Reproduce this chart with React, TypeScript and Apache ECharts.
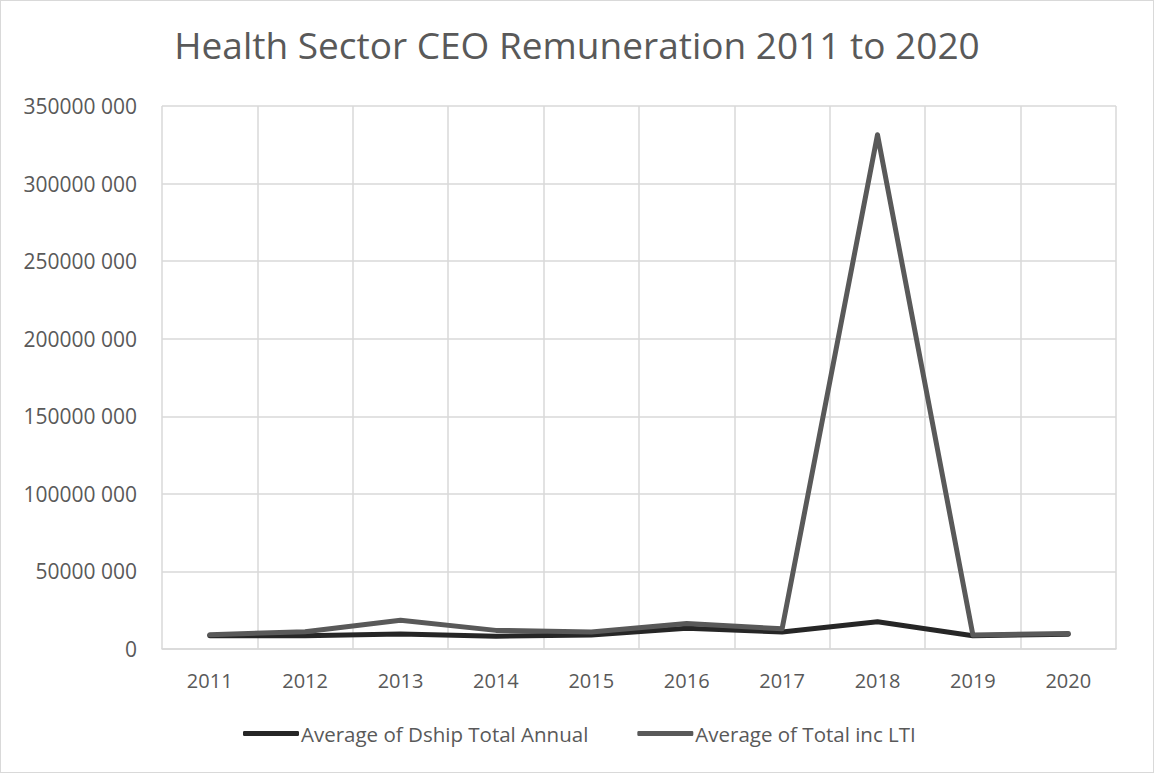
import React, { useEffect, useRef } from "react";
import * as echarts from "echarts";

const years = ["2011", "2012", "2013", "2014", "2015", "2016", "2017", "2018", "2019", "2020"];
const dshipTotalAnnual = [8.5e6, 8.6e6, 9.6e6, 8.2e6, 9.0e6, 13.3e6, 11.0e6, 17.6e6, 8.5e6, 9.5e6];
const totalIncLTI = [9.2e6, 11.1e6, 18.6e6, 12.0e6, 11.0e6, 16.5e6, 13.0e6, 331.5e6, 9.0e6, 10.0e6];

const fmt = (v: number) => {
  if (v === 0) return "0";
  const hi = Math.floor(v / 1000);
  const lo = String(v % 1000).padStart(3, "0");
  return `${hi} ${lo}`;
};

export default function App() {
  const ref = useRef<HTMLDivElement>(null);
  useEffect(() => {
    const chart = echarts.init(ref.current!, null, { renderer: "svg" });
    const font = "'Open Sans', 'Noto Sans', sans-serif";
    chart.setOption({
      animation: false,
      backgroundColor: "#ffffff",
      title: {
        text: "Health Sector CEO Remuneration 2011 to 2020",
        left: "center",
        top: 20,
        textStyle: { fontFamily: font, fontSize: 37, fontWeight: "normal", color: "#595959" },
      },
      grid: { left: 161, right: 37, top: 105, bottom: 123, containLabel: false },
      xAxis: {
        type: "category",
        data: years,
        boundaryGap: true,
        axisLine: { lineStyle: { color: "#d9d9d9", width: 1.5 } },
        axisTick: { show: false },
        axisLabel: { fontFamily: font, fontSize: 20, color: "#595959", margin: 21 },
        splitLine: { show: true, lineStyle: { color: "#d9d9d9", width: 1.5 } },
      },
      yAxis: {
        type: "value",
        min: 0,
        max: 350000000,
        interval: 50000000,
        axisLine: { show: false },
        axisTick: { show: false },
        axisLabel: { fontFamily: font, fontSize: 21, color: "#595959", margin: 25, formatter: fmt },
        splitLine: { lineStyle: { color: "#d9d9d9", width: 1.5 } },
      },
      legend: {
        bottom: 23,
        left: 237,
        itemWidth: 56,
        itemHeight: 5,
        itemGap: 49,
        icon: "roundRect",
        textStyle: { fontFamily: font, fontSize: 20.5, color: "#595959", padding: [0, 0, 0, -3] },
        data: ["Average of Dship Total Annual", "Average of Total inc LTI"],
      },
      series: [
        {
          name: "Average of Dship Total Annual",
          type: "line",
          data: dshipTotalAnnual,
          showSymbol: false,
          symbol: "none",
          color: "#262626",
          lineStyle: { color: "#262626", width: 5, cap: "round", join: "round" },
        },
        {
          name: "Average of Total inc LTI",
          type: "line",
          data: totalIncLTI,
          showSymbol: false,
          symbol: "none",
          color: "#595959",
          lineStyle: { color: "#595959", width: 5, cap: "round", join: "round" },
        },
      ],
    });
    return () => chart.dispose();
  }, []);
  return (
    <div
      style={{
        position: "absolute",
        left: 0,
        top: 0,
        width: 1154,
        height: 773,
        boxSizing: "border-box",
        border: "1px solid #d9d9d9",
        background: "#fff",
      }}
    >
      <div ref={ref} style={{ width: "100%", height: "100%" }} />
    </div>
  );
}
